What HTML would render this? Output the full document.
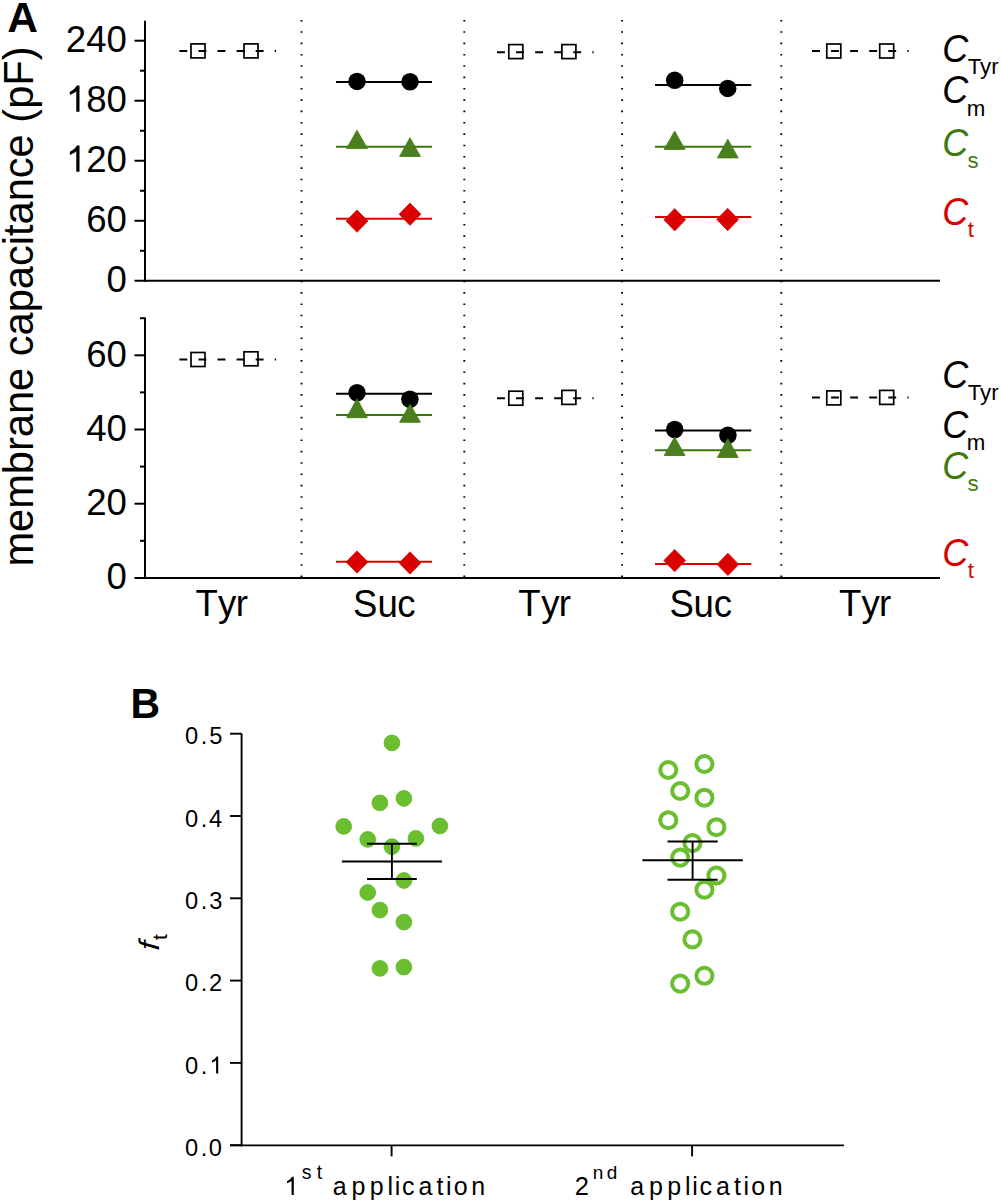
<!DOCTYPE html>
<html><head><meta charset="utf-8"><style>
html,body{margin:0;padding:0;background:#fff;}
svg{display:block;font-family:"Liberation Sans", sans-serif;}
</style></head><body>
<svg width="1001" height="1204" viewBox="0 0 1001 1204">
<rect x="0" y="0" width="1001" height="1204" fill="#fff"/>
<text transform="translate(0,32.1) scale(1,0.985)" x="7.14" y="0" font-size="42.5" fill="#000" font-weight="bold">A</text>
<line x1="145.0" y1="20.8" x2="145.0" y2="281.8" stroke="#000" stroke-width="2" />
<line x1="134.5" y1="280.8" x2="940" y2="280.8" stroke="#000" stroke-width="2" />
<line x1="134.5" y1="40.69999999999999" x2="145.0" y2="40.69999999999999" stroke="#000" stroke-width="2" />
<line x1="134.5" y1="100.725" x2="145.0" y2="100.725" stroke="#000" stroke-width="2" />
<line x1="134.5" y1="160.75" x2="145.0" y2="160.75" stroke="#000" stroke-width="2" />
<line x1="134.5" y1="220.775" x2="145.0" y2="220.775" stroke="#000" stroke-width="2" />
<line x1="140" y1="70.7125" x2="145.0" y2="70.7125" stroke="#000" stroke-width="2" />
<line x1="140" y1="130.7375" x2="145.0" y2="130.7375" stroke="#000" stroke-width="2" />
<line x1="140" y1="190.7625" x2="145.0" y2="190.7625" stroke="#000" stroke-width="2" />
<line x1="140" y1="250.78750000000002" x2="145.0" y2="250.78750000000002" stroke="#000" stroke-width="2" />
<text transform="translate(65.86,51.7) scale(1,1.03)" x="0" y="0" font-size="36.6" fill="#000">240</text>
<path transform="translate(65.86,111.72) scale(0.017871,-0.017871)" d="M763,0 L583,0 L583,1147 C548,1113 503,1079 446,1046 C389,1012 338,987 293,970 L223,946 L223,1120 C313,1162 391,1213 459,1273 C527,1333 575,1391 603,1447 L619,1466 L763,1466 Z" fill="#000"/>
<text transform="translate(86.22,111.72) scale(1,1.03)" x="0" y="0" font-size="36.6" fill="#000">80</text>
<path transform="translate(65.86,171.75) scale(0.017871,-0.017871)" d="M763,0 L583,0 L583,1147 C548,1113 503,1079 446,1046 C389,1012 338,987 293,970 L223,946 L223,1120 C313,1162 391,1213 459,1273 C527,1333 575,1391 603,1447 L619,1466 L763,1466 Z" fill="#000"/>
<text transform="translate(86.22,171.75) scale(1,1.03)" x="0" y="0" font-size="36.6" fill="#000">20</text>
<text transform="translate(86.22,231.78) scale(1,1.03)" x="0" y="0" font-size="36.6" fill="#000">60</text>
<text transform="translate(106.57,291.8) scale(1,1.03)" x="0" y="0" font-size="36.6" fill="#000">0</text>
<line x1="145.0" y1="317.5" x2="145.0" y2="578.9" stroke="#000" stroke-width="2" />
<line x1="134.5" y1="577.9" x2="940" y2="577.9" stroke="#000" stroke-width="2" />
<line x1="134.5" y1="355.29999999999995" x2="145.0" y2="355.29999999999995" stroke="#000" stroke-width="2" />
<line x1="134.5" y1="429.5" x2="145.0" y2="429.5" stroke="#000" stroke-width="2" />
<line x1="134.5" y1="503.7" x2="145.0" y2="503.7" stroke="#000" stroke-width="2" />
<line x1="140" y1="318.2" x2="145.0" y2="318.2" stroke="#000" stroke-width="2" />
<line x1="140" y1="392.4" x2="145.0" y2="392.4" stroke="#000" stroke-width="2" />
<line x1="140" y1="466.59999999999997" x2="145.0" y2="466.59999999999997" stroke="#000" stroke-width="2" />
<line x1="140" y1="540.8" x2="145.0" y2="540.8" stroke="#000" stroke-width="2" />
<text transform="translate(86.22,366.6) scale(1,1.03)" x="0" y="0" font-size="36.6" fill="#000">60</text>
<text transform="translate(86.22,440.8) scale(1,1.03)" x="0" y="0" font-size="36.6" fill="#000">40</text>
<text transform="translate(86.22,515.0) scale(1,1.03)" x="0" y="0" font-size="36.6" fill="#000">20</text>
<text transform="translate(106.57,589.2) scale(1,1.03)" x="0" y="0" font-size="36.6" fill="#000">0</text>
<line x1="301.5" y1="19.9" x2="301.5" y2="578" stroke="#000" stroke-width="1.9" stroke-dasharray="1.6 9.74"/>
<line x1="464.3" y1="19.9" x2="464.3" y2="578" stroke="#000" stroke-width="1.9" stroke-dasharray="1.6 9.74"/>
<line x1="622.1" y1="19.9" x2="622.1" y2="578" stroke="#000" stroke-width="1.9" stroke-dasharray="1.6 9.74"/>
<line x1="781.3" y1="19.9" x2="781.3" y2="578" stroke="#000" stroke-width="1.9" stroke-dasharray="1.6 9.74"/>
<text transform="translate(33,566.6) rotate(-90)" font-size="41.6" fill="#000">membrane capacitance (pF)</text>
<text transform="translate(0,616.1) scale(1,1.025)" x="195.39 217.89 235.68" y="0" font-size="36.6" fill="#000">Tyr</text>
<text transform="translate(0,616.1) scale(1,1.025)" x="518.29 541.29 558.78" y="0" font-size="36.6" fill="#000">Tyr</text>
<text transform="translate(0,616.1) scale(1,1.025)" x="838.99 861.39 878.98" y="0" font-size="36.6" fill="#000">Tyr</text>
<text transform="translate(0,616.9) scale(1,1.045)" x="353.12 377.62 397.36" y="0" font-size="36.6" fill="#000">Suc</text>
<text transform="translate(0,616.9) scale(1,1.045)" x="669.52 693.62 713.76" y="0" font-size="36.6" fill="#000">Suc</text>
<rect x="191.0" y="43.9" width="14.0" height="14.0" fill="none" stroke="#000" stroke-width="1.7"/>
<rect x="244.0" y="43.9" width="14.0" height="14.0" fill="none" stroke="#000" stroke-width="1.7"/>
<line x1="179.4" y1="51.0" x2="276.05" y2="51.0" stroke="#000" stroke-width="2" stroke-dasharray="7.9 11.17"/>
<rect x="508.79999999999995" y="44.6" width="14.0" height="14.0" fill="none" stroke="#000" stroke-width="1.7"/>
<rect x="561.9" y="44.6" width="14.0" height="14.0" fill="none" stroke="#000" stroke-width="1.7"/>
<line x1="497" y1="52.2" x2="593.65" y2="52.2" stroke="#000" stroke-width="2" stroke-dasharray="7.9 11.17"/>
<rect x="826.8" y="44.0" width="14.0" height="14.0" fill="none" stroke="#000" stroke-width="1.7"/>
<rect x="879.7" y="44.0" width="14.0" height="14.0" fill="none" stroke="#000" stroke-width="1.7"/>
<line x1="812" y1="51.1" x2="908.65" y2="51.1" stroke="#000" stroke-width="2" stroke-dasharray="7.9 11.17"/>
<line x1="336" y1="82.0" x2="432" y2="82.0" stroke="#000" stroke-width="2" />
<circle cx="357" cy="81.4" r="8.75" fill="#000" stroke="none" stroke-width="0"/>
<circle cx="410" cy="81.7" r="8.75" fill="#000" stroke="none" stroke-width="0"/>
<line x1="336" y1="146.7" x2="432" y2="146.7" stroke="#3a7708" stroke-width="2" />
<polygon points="357,130.2 367.4,148.6 346.6,148.6" fill="#4a7f20" stroke="#3a7708" stroke-width="0.8" stroke-linejoin="round"/>
<polygon points="410,137.7 420.4,156.4 399.6,156.4" fill="#4a7f20" stroke="#3a7708" stroke-width="0.8" stroke-linejoin="round"/>
<line x1="336" y1="218.7" x2="432" y2="218.7" stroke="#da0000" stroke-width="2" />
<polygon points="357,209.9 367.9,221.1 357,232.29999999999998 346.1,221.1" fill="#da0000" stroke="#da0000" stroke-width="0.7" stroke-linejoin="round"/>
<polygon points="410,203.0 420.9,214.2 410,225.39999999999998 399.1,214.2" fill="#da0000" stroke="#da0000" stroke-width="0.7" stroke-linejoin="round"/>
<line x1="655" y1="85.0" x2="751.3" y2="85.0" stroke="#000" stroke-width="2" />
<circle cx="674.7" cy="80.2" r="8.75" fill="#000" stroke="none" stroke-width="0"/>
<circle cx="727.7" cy="88.4" r="8.75" fill="#000" stroke="none" stroke-width="0"/>
<line x1="655" y1="146.7" x2="751.3" y2="146.7" stroke="#3a7708" stroke-width="2" />
<polygon points="674.6,131 685.0,149.4 664.2,149.4" fill="#4a7f20" stroke="#3a7708" stroke-width="0.8" stroke-linejoin="round"/>
<polygon points="727.8,139.2 738.1999999999999,157.9 717.4,157.9" fill="#4a7f20" stroke="#3a7708" stroke-width="0.8" stroke-linejoin="round"/>
<line x1="655" y1="216.9" x2="751.3" y2="216.9" stroke="#da0000" stroke-width="2" />
<polygon points="674.7,208.60000000000002 685.6,219.8 674.7,231.0 663.8000000000001,219.8" fill="#da0000" stroke="#da0000" stroke-width="0.7" stroke-linejoin="round"/>
<polygon points="727.7,208.3 738.6,219.5 727.7,230.7 716.8000000000001,219.5" fill="#da0000" stroke="#da0000" stroke-width="0.7" stroke-linejoin="round"/>
<rect x="191.0" y="352.5" width="14.0" height="14.0" fill="none" stroke="#000" stroke-width="1.7"/>
<rect x="244.0" y="351.8" width="14.0" height="14.0" fill="none" stroke="#000" stroke-width="1.7"/>
<line x1="179.4" y1="359.4" x2="276.05" y2="359.4" stroke="#000" stroke-width="2" stroke-dasharray="7.9 11.17"/>
<rect x="508.79999999999995" y="391.2" width="14.0" height="14.0" fill="none" stroke="#000" stroke-width="1.7"/>
<rect x="561.9" y="390.4" width="14.0" height="14.0" fill="none" stroke="#000" stroke-width="1.7"/>
<line x1="497" y1="398.3" x2="593.65" y2="398.3" stroke="#000" stroke-width="2" stroke-dasharray="7.9 11.17"/>
<rect x="826.8" y="390.9" width="14.0" height="14.0" fill="none" stroke="#000" stroke-width="1.7"/>
<rect x="879.7" y="390.4" width="14.0" height="14.0" fill="none" stroke="#000" stroke-width="1.7"/>
<line x1="812" y1="397.5" x2="908.65" y2="397.5" stroke="#000" stroke-width="2" stroke-dasharray="7.9 11.17"/>
<line x1="336" y1="393.8" x2="432" y2="393.8" stroke="#000" stroke-width="2" />
<circle cx="357" cy="392.7" r="8.75" fill="#000" stroke="none" stroke-width="0"/>
<circle cx="409.9" cy="399.2" r="8.75" fill="#000" stroke="none" stroke-width="0"/>
<line x1="336" y1="415.1" x2="432" y2="415.1" stroke="#3a7708" stroke-width="2" />
<polygon points="357,398.8 367.4,417.7 346.6,417.7" fill="#4a7f20" stroke="#3a7708" stroke-width="0.8" stroke-linejoin="round"/>
<polygon points="410,404 420.4,422.3 399.6,422.3" fill="#4a7f20" stroke="#3a7708" stroke-width="0.8" stroke-linejoin="round"/>
<line x1="336" y1="561.8" x2="432" y2="561.8" stroke="#da0000" stroke-width="2" />
<polygon points="357,550.8 367.9,562 357,573.2 346.1,562" fill="#da0000" stroke="#da0000" stroke-width="0.7" stroke-linejoin="round"/>
<polygon points="410,551.8 420.9,563 410,574.2 399.1,563" fill="#da0000" stroke="#da0000" stroke-width="0.7" stroke-linejoin="round"/>
<line x1="655" y1="430.5" x2="751.3" y2="430.5" stroke="#000" stroke-width="2" />
<circle cx="674.7" cy="429.5" r="8.75" fill="#000" stroke="none" stroke-width="0"/>
<circle cx="727.9" cy="435.3" r="8.75" fill="#000" stroke="none" stroke-width="0"/>
<line x1="655" y1="450.3" x2="751.3" y2="450.3" stroke="#3a7708" stroke-width="2" />
<polygon points="674.6,437 685.0,455.5 664.2,455.5" fill="#4a7f20" stroke="#3a7708" stroke-width="0.8" stroke-linejoin="round"/>
<polygon points="727.8,438.6 738.1999999999999,457.4 717.4,457.4" fill="#4a7f20" stroke="#3a7708" stroke-width="0.8" stroke-linejoin="round"/>
<line x1="655" y1="564.0" x2="751.3" y2="564.0" stroke="#da0000" stroke-width="2" />
<polygon points="674.7,549.4 685.6,560.6 674.7,571.8000000000001 663.8000000000001,560.6" fill="#da0000" stroke="#da0000" stroke-width="0.7" stroke-linejoin="round"/>
<polygon points="727.9,553.1999999999999 738.8,564.4 727.9,575.6 717.0,564.4" fill="#da0000" stroke="#da0000" stroke-width="0.7" stroke-linejoin="round"/>
<text transform="translate(0,61.7) scale(1,1.065)" x="942.22" y="0" font-size="36.0" fill="#000" font-style="italic">C</text>
<text transform="translate(0,73.6) scale(1,1.03)" x="967.71" y="0" font-size="22.3" fill="#000">Tyr</text>
<text transform="translate(0,103.2) scale(1,1.065)" x="942.22" y="0" font-size="36.0" fill="#000" font-style="italic">C</text>
<text transform="translate(0,115.5) scale(1,1.03)" x="966.73" y="0" font-size="22.3" fill="#000">m</text>
<text transform="translate(0,156.1) scale(1,1.065)" x="942.22" y="0" font-size="36.0" fill="#3e7a10" font-style="italic">C</text>
<text transform="translate(0,168.4) scale(1,1.03)" x="967.58" y="0" font-size="22.3" fill="#3e7a10">s</text>
<text transform="translate(0,225.0) scale(1,1.065)" x="942.22" y="0" font-size="36.0" fill="#da0000" font-style="italic">C</text>
<text transform="translate(0,237.0) scale(1,1.03)" x="967.87" y="0" font-size="22.3" fill="#da0000">t</text>
<text transform="translate(0,387.7) scale(1,1.065)" x="942.22" y="0" font-size="36.0" fill="#000" font-style="italic">C</text>
<text transform="translate(0,399.8) scale(1,1.03)" x="967.71" y="0" font-size="22.3" fill="#000">Tyr</text>
<text transform="translate(0,437.8) scale(1,1.065)" x="942.22" y="0" font-size="36.0" fill="#000" font-style="italic">C</text>
<text transform="translate(0,449.6) scale(1,1.03)" x="966.73" y="0" font-size="22.3" fill="#000">m</text>
<text transform="translate(0,478.9) scale(1,1.065)" x="942.22" y="0" font-size="36.0" fill="#3e7a10" font-style="italic">C</text>
<text transform="translate(0,490.5) scale(1,1.03)" x="967.58" y="0" font-size="22.3" fill="#3e7a10">s</text>
<text transform="translate(0,566.0) scale(1,1.065)" x="942.22" y="0" font-size="36.0" fill="#da0000" font-style="italic">C</text>
<text transform="translate(0,578.4) scale(1,1.03)" x="967.87" y="0" font-size="22.3" fill="#da0000">t</text>
<text transform="translate(0,718.4) scale(1,1.05)" x="130.45" y="0" font-size="41.0" fill="#000" font-weight="bold">B</text>
<line x1="241.6" y1="733.5" x2="241.6" y2="1146.2" stroke="#000" stroke-width="1.9" />
<line x1="230" y1="1145.4" x2="843.9" y2="1145.4" stroke="#000" stroke-width="1.9" />
<line x1="230" y1="1145.2" x2="241.6" y2="1145.2" stroke="#000" stroke-width="1.9" />
<text transform="translate(0,1155.8) scale(1,1.03)" x="184.98 200.74 208.78" y="0" font-size="23.7" fill="#000">0.0</text>
<line x1="230" y1="1062.9" x2="241.6" y2="1062.9" stroke="#000" stroke-width="1.9" />
<text transform="translate(0,1073.5) scale(1,1.03)" x="184.98 200.74" y="0" font-size="23.7" fill="#000">0.</text>
<path transform="translate(209.37,1073.5) scale(0.011572,-0.011572)" d="M763,0 L583,0 L583,1147 C548,1113 503,1079 446,1046 C389,1012 338,987 293,970 L223,946 L223,1120 C313,1162 391,1213 459,1273 C527,1333 575,1391 603,1447 L619,1466 L763,1466 Z" fill="#000"/>
<line x1="230" y1="980.6" x2="241.6" y2="980.6" stroke="#000" stroke-width="1.9" />
<text transform="translate(0,991.2) scale(1,1.03)" x="184.98 200.74 208.92" y="0" font-size="23.7" fill="#000">0.2</text>
<line x1="230" y1="898.3000000000001" x2="241.6" y2="898.3000000000001" stroke="#000" stroke-width="1.9" />
<text transform="translate(0,908.9) scale(1,1.03)" x="184.98 200.74 209.2" y="0" font-size="23.7" fill="#000">0.3</text>
<line x1="230" y1="816.0" x2="241.6" y2="816.0" stroke="#000" stroke-width="1.9" />
<text transform="translate(0,826.6) scale(1,1.03)" x="184.98 200.74 208.95" y="0" font-size="23.7" fill="#000">0.4</text>
<line x1="230" y1="733.7" x2="241.6" y2="733.7" stroke="#000" stroke-width="1.9" />
<text transform="translate(0,744.3) scale(1,1.03)" x="184.98 200.74 209.15" y="0" font-size="23.7" fill="#000">0.5</text>
<line x1="391.6" y1="1145.2" x2="391.6" y2="1156.4" stroke="#000" stroke-width="1.9" />
<line x1="692.1" y1="1145.2" x2="692.1" y2="1156.4" stroke="#000" stroke-width="1.9" />
<text transform="translate(159.3,950.8) rotate(-90) skewX(-4) scale(1.12,1)" font-size="28.5" font-style="italic" fill="#000">f</text>
<text transform="translate(166.9,940) rotate(-90)" font-size="21" fill="#000">t</text>
<circle cx="391.9" cy="742.9" r="7.9" fill="#6bbe30" stroke="#5cb81e" stroke-width="0.8"/>
<circle cx="379.9" cy="802.9" r="7.9" fill="#6bbe30" stroke="#5cb81e" stroke-width="0.8"/>
<circle cx="403.9" cy="798.4" r="7.9" fill="#6bbe30" stroke="#5cb81e" stroke-width="0.8"/>
<circle cx="343.7" cy="826.4" r="7.9" fill="#6bbe30" stroke="#5cb81e" stroke-width="0.8"/>
<circle cx="439.9" cy="826.0" r="7.9" fill="#6bbe30" stroke="#5cb81e" stroke-width="0.8"/>
<circle cx="367.7" cy="839.4" r="7.9" fill="#6bbe30" stroke="#5cb81e" stroke-width="0.8"/>
<circle cx="415.9" cy="838.4" r="7.9" fill="#6bbe30" stroke="#5cb81e" stroke-width="0.8"/>
<circle cx="391.9" cy="846.6" r="7.9" fill="#6bbe30" stroke="#5cb81e" stroke-width="0.8"/>
<circle cx="403.9" cy="880.5" r="7.9" fill="#6bbe30" stroke="#5cb81e" stroke-width="0.8"/>
<circle cx="367.7" cy="892.5" r="7.9" fill="#6bbe30" stroke="#5cb81e" stroke-width="0.8"/>
<circle cx="379.9" cy="910.1" r="7.9" fill="#6bbe30" stroke="#5cb81e" stroke-width="0.8"/>
<circle cx="403.9" cy="922.1" r="7.9" fill="#6bbe30" stroke="#5cb81e" stroke-width="0.8"/>
<circle cx="379.9" cy="968.4" r="7.9" fill="#6bbe30" stroke="#5cb81e" stroke-width="0.8"/>
<circle cx="403.9" cy="967.1" r="7.9" fill="#6bbe30" stroke="#5cb81e" stroke-width="0.8"/>
<circle cx="668.3" cy="770" r="8.05" fill="none" stroke="#6bbe30" stroke-width="4.0"/>
<circle cx="704.4" cy="764" r="8.05" fill="none" stroke="#6bbe30" stroke-width="4.0"/>
<circle cx="680.2" cy="791" r="8.05" fill="none" stroke="#6bbe30" stroke-width="4.0"/>
<circle cx="704.4" cy="797.7" r="8.05" fill="none" stroke="#6bbe30" stroke-width="4.0"/>
<circle cx="668.3" cy="820.2" r="8.05" fill="none" stroke="#6bbe30" stroke-width="4.0"/>
<circle cx="716.4" cy="827.2" r="8.05" fill="none" stroke="#6bbe30" stroke-width="4.0"/>
<circle cx="692.4" cy="843.1" r="8.05" fill="none" stroke="#6bbe30" stroke-width="4.0"/>
<circle cx="680.2" cy="857.6" r="8.05" fill="none" stroke="#6bbe30" stroke-width="4.0"/>
<circle cx="716.4" cy="875.5" r="8.05" fill="none" stroke="#6bbe30" stroke-width="4.0"/>
<circle cx="704.4" cy="889.7" r="8.05" fill="none" stroke="#6bbe30" stroke-width="4.0"/>
<circle cx="680.2" cy="911.7" r="8.05" fill="none" stroke="#6bbe30" stroke-width="4.0"/>
<circle cx="692.4" cy="939.4" r="8.05" fill="none" stroke="#6bbe30" stroke-width="4.0"/>
<circle cx="704.4" cy="975.8" r="8.05" fill="none" stroke="#6bbe30" stroke-width="4.0"/>
<circle cx="680.2" cy="983.6" r="8.05" fill="none" stroke="#6bbe30" stroke-width="4.0"/>
<line x1="367.0" y1="843.8" x2="416.79999999999995" y2="843.8" stroke="#000" stroke-width="1.9" />
<line x1="367.0" y1="879.0" x2="416.79999999999995" y2="879.0" stroke="#000" stroke-width="1.9" />
<line x1="341.84999999999997" y1="861.5" x2="441.95" y2="861.5" stroke="#000" stroke-width="1.9" />
<line x1="391.9" y1="843.8" x2="391.9" y2="879.0" stroke="#000" stroke-width="1.9" />
<line x1="667.5" y1="841.5" x2="717.7" y2="841.5" stroke="#000" stroke-width="1.9" />
<line x1="667.5" y1="879.8" x2="717.7" y2="879.8" stroke="#000" stroke-width="1.9" />
<line x1="642.4" y1="860.3" x2="742.8000000000001" y2="860.3" stroke="#000" stroke-width="1.9" />
<line x1="692.6" y1="841.5" x2="692.6" y2="879.8" stroke="#000" stroke-width="1.9" />
<path transform="translate(284.3,1195.0) scale(0.012451,-0.012451)" d="M763,0 L583,0 L583,1147 C548,1113 503,1079 446,1046 C389,1012 338,987 293,970 L223,946 L223,1120 C313,1162 391,1213 459,1273 C527,1333 575,1391 603,1447 L619,1466 L763,1466 Z" fill="#000"/>
<text transform="translate(0,1178.9) scale(1,1.03)" x="301.65 316.71" y="0" font-size="19.5" fill="#000">st</text>
<text transform="translate(0,1194.9) scale(1,1.03)" x="332.65 351.48 369.78 387.62 394.82 402.05 418.55 436.52 445.92 453.65 471.25" y="0" font-size="25.0" fill="#000">application</text>
<text transform="translate(574.8,1195.0) scale(1,1.02)" x="0" y="0" font-size="25.5" fill="#000">2</text>
<text transform="translate(0,1179.2) scale(1,0.98)" x="592.75 606.8" y="0" font-size="19.0" fill="#000">nd</text>
<text transform="translate(0,1194.9) scale(1,1.03)" x="630.15 648.98 667.28 685.12 692.32 699.55 716.05 734.02 743.42 751.15 768.75" y="0" font-size="25.0" fill="#000">application</text>
</svg>
</body></html>
